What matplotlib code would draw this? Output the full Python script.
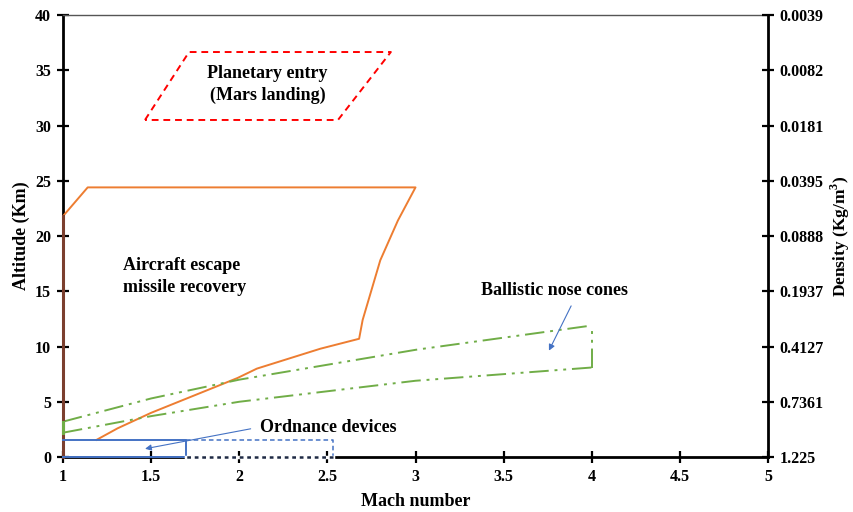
import matplotlib
matplotlib.use("Agg")
import matplotlib.pyplot as plt
import numpy as np

plt.rcParams['font.family'] = ['Liberation Serif', 'DejaVu Serif']
plt.rcParams['font.weight'] = 'bold'
plt.rcParams['mathtext.fontset'] = 'custom'
plt.rcParams['mathtext.rm'] = 'Liberation Serif:bold'
plt.rcParams['mathtext.bf'] = 'Liberation Serif:bold'

# Aircraft escape / missile recovery envelope (Mach, altitude km)
escape_mach = [1.0, 1.0, 1.14, 3.0, 2.9, 2.8, 2.70, 2.68, 2.46, 2.1, 1.99, 1.5, 1.31, 1.19]
escape_alt = [0.0, 21.8, 24.4, 24.4, 21.4, 17.8, 12.4, 10.7, 9.8, 8.0, 7.15, 4.0, 2.6, 1.55]

# Ballistic nose cones envelope
nose_mach = [1.0, 1.5, 2.0, 3.0, 4.0]
nose_upper = [3.2, 5.3, 7.0, 9.7, 11.9]
nose_lower = [2.2, 3.7, 5.0, 6.9, 8.1]

# Planetary entry parallelogram
mars_mach = [1.465, 1.715, 2.86, 2.56, 1.465]
mars_alt = [30.5, 36.65, 36.65, 30.5, 30.5]

# Ordnance devices boxes
ord_solid_mach = [1.0, 1.7, 1.7, 1.0]
ord_solid_alt = [1.5, 1.5, 0.0, 0.0]
ord_dash_mach = [1.7, 2.53, 2.53, 1.7]
ord_dash_alt = [1.5, 1.5, 0.0, 0.0]

alt_ticks = [0, 5, 10, 15, 20, 25, 30, 35, 40]
density_labels = ['1.225', '0.7361', '0.4127', '0.1937', '0.0888', '0.0395', '0.0181', '0.0082', '0.0039']
mach_ticks = [1, 1.5, 2, 2.5, 3, 3.5, 4, 4.5, 5]
mach_labels = ['1', '1.5', '2', '2.5', '3', '3.5', '4', '4.5', '5']

fig = plt.figure(figsize=(8.54, 5.12), dpi=100)
ax = fig.add_axes([0.0738, 0.1074, 0.8255, 0.8633])
ax.set_xlim(1, 5)
ax.set_ylim(0, 40)

orange = '#ED7D31'
green = '#70AD47'
blue = '#4472C4'
dd = (10, 3, 1.5, 3, 1.5, 3)

# Escape envelope
ax.plot(escape_mach[1:], escape_alt[1:], color=orange, lw=1.4, zorder=3)
ax.plot(escape_mach[:2], escape_alt[:2], color='#7B3F2E', lw=2.2, zorder=4, clip_on=False)

# Nose cones
ax.plot(nose_mach, nose_upper, color=green, lw=1.4, dashes=dd, zorder=3)
ax.plot(nose_mach, nose_lower, color=green, lw=1.4, dashes=dd, zorder=3)
ax.plot([nose_mach[-1], nose_mach[-1]], [nose_lower[-1], nose_upper[-1]], color=green, lw=1.4,
        dashes=dd, zorder=3)
ax.plot([nose_mach[0], nose_mach[0]], [nose_lower[0], nose_upper[0]], color=green, lw=2.2, zorder=5,
        clip_on=False)

# Mars
ax.plot(mars_mach, mars_alt, color='#FF0000', lw=1.4, dashes=(3.5, 2.5), zorder=3)

# Ordnance
ax.plot(ord_solid_mach, ord_solid_alt, color=blue, lw=1.4, zorder=5, clip_on=False)
ax.plot(ord_dash_mach[:3], ord_dash_alt[:3], color=blue, lw=1.1, dashes=(3, 2), zorder=5)
ax.plot([ord_dash_mach[1], ord_dash_mach[0]], [0, 0], color='white', lw=2.5, zorder=5, clip_on=False)
ax.plot([ord_dash_mach[1], ord_dash_mach[0]], [0, 0], color='#1F2A44', lw=1.8, dashes=(1.5, 1.5),
        zorder=6, clip_on=False)

# Texts
tsize = 13
ax.text(2.16, 33.7, 'Planetary entry\n(Mars landing)', ha='center', va='center', fontsize=tsize,
        fontweight='bold', linespacing=1.4)
ax.text(1.34, 16.3, 'Aircraft escape\nmissile recovery', ha='left', va='center', fontsize=tsize,
        fontweight='bold', linespacing=1.4)
ax.text(3.79, 15.1, 'Ballistic nose cones', ha='center', va='center', fontsize=tsize, fontweight='bold')
ax.text(2.12, 2.7, 'Ordnance devices', ha='left', va='center', fontsize=tsize, fontweight='bold')

ax.annotate('', xy=(3.75, 9.4), xytext=(3.89, 13.9),
            arrowprops=dict(arrowstyle='-|>', color=blue, lw=0.8, mutation_scale=9), zorder=6)
ax.annotate('', xy=(1.45, 0.7), xytext=(2.08, 2.6),
            arrowprops=dict(arrowstyle='-|>', color=blue, lw=0.8, mutation_scale=9), zorder=6)

# Axes styling
ax.set_xticks(mach_ticks)
ax.set_xticklabels(mach_labels)
ax.set_yticks(alt_ticks)
ax.tick_params(axis='both', direction='inout', length=9, width=1.6, labelsize=11.5, pad=4)
for lab in ax.get_xticklabels() + ax.get_yticklabels():
    lab.set_fontweight('bold')
ax.spines['left'].set_linewidth(2.0)
ax.spines['bottom'].set_linewidth(2.0)
ax.spines['right'].set_visible(False)
ax.spines['top'].set_linewidth(1.0)
ax.spines['top'].set_color('#555555')

ax2 = ax.twinx()
ax2.set_ylim(0, 40)
ax2.set_yticks(alt_ticks)
ax2.set_yticklabels(density_labels)
ax2.tick_params(axis='y', direction='inout', length=9, width=1.6, labelsize=11.5, pad=4)
for lab in ax2.get_yticklabels():
    lab.set_fontweight('bold')
ax2.spines['right'].set_linewidth(2.0)
for s in ['left', 'top', 'bottom']:
    ax2.spines[s].set_visible(False)

ax.set_xlabel('Mach number', fontsize=13, fontweight='bold', labelpad=6)
ax.set_ylabel('Altitude (Km)', fontsize=13, fontweight='bold', labelpad=4)
ax2.set_ylabel('Density (Kg/m$^{\\mathbf{3}}$)', fontsize=12.5, fontweight='bold', labelpad=3)

fig.savefig('out.png', dpi=100)
